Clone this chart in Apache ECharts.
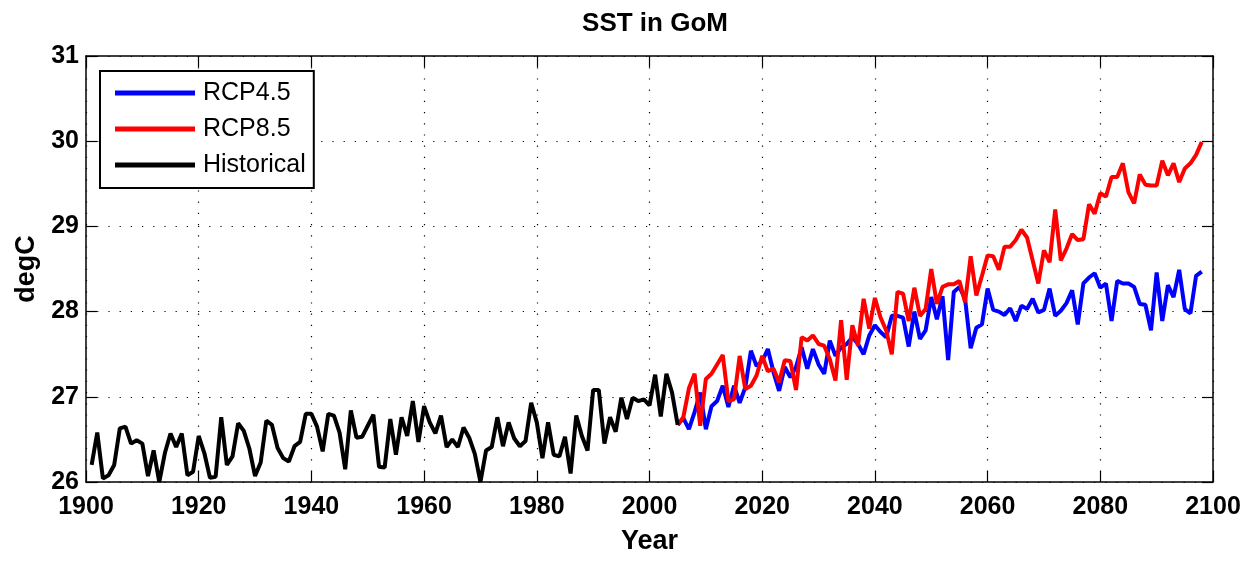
<!DOCTYPE html>
<html>
<head>
<meta charset="utf-8">
<script src="https://cdn.jsdelivr.net/npm/echarts@6/dist/echarts.min.js"></script>
<style>html,body{margin:0;padding:0;background:#fff}#c{width:1257px;height:565px}</style>
</head>
<body>
<div id="c"></div>
<script>
const histStart = 1901;
const histValues = [26.20,26.58,26.04,26.08,26.20,26.63,26.65,26.45,26.49,26.45,
26.07,26.37,26.00,26.34,26.57,26.41,26.57,26.08,26.12,26.54,
26.34,26.05,26.06,26.76,26.20,26.30,26.69,26.60,26.39,26.07,
26.23,26.72,26.67,26.40,26.28,26.24,26.42,26.47,26.80,26.80,
26.65,26.36,26.80,26.78,26.58,26.15,26.84,26.52,26.53,26.66,
26.79,26.18,26.17,26.74,26.32,26.76,26.54,26.95,26.47,26.89,
26.70,26.57,26.78,26.41,26.50,26.41,26.64,26.52,26.33,26.00,
26.37,26.41,26.76,26.42,26.70,26.51,26.42,26.48,26.93,26.70,
26.28,26.70,26.32,26.30,26.53,26.10,26.78,26.54,26.37,27.08,
27.08,26.45,26.76,26.59,26.99,26.74,26.99,26.95,26.97,26.90,
27.26,26.77,27.27,27.05,26.67];
const rcpStart = 2005;
const rcp45Values = [26.67,26.75,26.62,26.82,27.05,26.62,26.89,26.95,27.13,26.88,
27.13,26.93,27.11,27.54,27.36,27.42,27.56,27.29,27.07,27.35,
27.23,27.35,27.58,27.33,27.56,27.38,27.27,27.66,27.48,27.58,
27.62,27.70,27.62,27.50,27.72,27.84,27.76,27.70,27.95,27.95,
27.93,27.59,28.00,27.68,27.78,28.17,27.91,28.18,27.43,28.23,
28.29,28.15,27.57,27.81,27.85,28.27,28.02,28.00,27.96,28.04,
27.89,28.07,28.03,28.15,27.99,28.02,28.27,27.95,28.01,28.10,
28.25,27.85,28.33,28.40,28.45,28.28,28.33,27.89,28.36,28.33,
28.33,28.29,28.09,28.08,27.78,28.46,27.89,28.31,28.17,28.49,
28.03,27.98,28.42,28.47];
const rcp85Values = [26.67,26.76,27.10,27.27,26.66,27.21,27.27,27.38,27.49,26.95,
26.97,27.48,27.09,27.13,27.25,27.48,27.30,27.33,27.17,27.43,
27.42,27.08,27.70,27.66,27.72,27.62,27.60,27.44,27.19,27.90,
27.20,27.84,27.60,28.15,27.80,28.16,27.93,27.78,27.50,28.23,
28.21,27.89,28.28,27.95,28.03,28.50,28.09,28.29,28.32,28.32,
28.36,28.11,28.65,28.19,28.42,28.66,28.65,28.49,28.76,28.76,
28.84,28.96,28.87,28.60,28.33,28.72,28.58,29.20,28.60,28.74,
28.91,28.84,28.85,29.26,29.15,29.39,29.35,29.58,29.58,29.74,
29.40,29.27,29.61,29.49,29.48,29.48,29.77,29.60,29.74,29.52,
29.68,29.74,29.84,29.99];
const seriesNames = ['RCP4.5','RCP8.5','Historical'];
const seriesColors = ['#0000ff','#ff0000','#000000'];
const xTicks = {min:1900, max:2100, interval:20};
const yTicks = {min:26, max:31, interval:1};

const pairs = (start, vals) => vals.map((v, i) => [start + i, v]);
const FONT = 'Liberation Sans, Arial, Helvetica, sans-serif';
const dotted = {show:true, lineStyle:{color:'#000', width:1.2, type:[1.2,10]}};
const axLine = {show:true, onZero:false, lineStyle:{color:'#000', width:1.5}};
const tick = {show:true, inside:true, length:11, lineStyle:{color:'#000', width:1.2}};
const plain = v => String(v);

const chart = echarts.init(document.getElementById('c'), null, {renderer:'canvas'});
chart.setOption({
  animation:false,
  backgroundColor:'#fff',
  title:{text:'SST in GoM', left:650, textAlign:'center', top:6,
    textStyle:{fontFamily:FONT, fontSize:26, fontWeight:'bold', color:'#000'}},
  grid:{left:86, right:44, top:56, bottom:83, containLabel:false},
  legend:{
    orient:'vertical', left:100, top:71, icon:'rect', itemWidth:80, itemHeight:5, itemGap:6,
    padding:[7,8,8,15], borderColor:'#000', borderWidth:2, backgroundColor:'#fff',
    selectedMode:false, data:seriesNames,
    textStyle:{fontFamily:FONT, fontSize:25, color:'#000', lineHeight:30, padding:[0,0,0,3]}
  },
  xAxis:[
    {type:'value', position:'bottom', min:xTicks.min, max:xTicks.max, interval:xTicks.interval,
     name:'Year', nameLocation:'middle', nameGap:46,
     nameTextStyle:{fontFamily:FONT, fontSize:27, fontWeight:'bold', color:'#000'},
     axisLine:axLine, axisTick:tick, splitLine:dotted,
     axisLabel:{fontFamily:FONT, fontSize:25, fontWeight:'bold', color:'#000', margin:13, formatter:plain}},
    {type:'value', position:'top', min:xTicks.min, max:xTicks.max, interval:xTicks.interval,
     axisLine:axLine, axisTick:tick, splitLine:{show:false}, axisLabel:{show:false}}
  ],
  yAxis:[
    {type:'value', position:'left', min:yTicks.min, max:yTicks.max, interval:yTicks.interval,
     name:'degC', nameLocation:'middle', nameGap:45,
     nameTextStyle:{fontFamily:FONT, fontSize:27, fontWeight:'bold', color:'#000'},
     axisLine:axLine, axisTick:tick, splitLine:dotted,
     axisLabel:{fontFamily:FONT, fontSize:25, fontWeight:'bold', color:'#000', margin:7, formatter:plain}},
    {type:'value', position:'right', min:yTicks.min, max:yTicks.max, interval:yTicks.interval,
     axisLine:axLine, axisTick:tick, splitLine:{show:false}, axisLabel:{show:false}}
  ],
  series:[
    {name:seriesNames[0], type:'line', data:pairs(rcpStart, rcp45Values), showSymbol:false,
     lineStyle:{color:seriesColors[0], width:4}, itemStyle:{color:seriesColors[0]}, z:2},
    {name:seriesNames[1], type:'line', data:pairs(rcpStart, rcp85Values), showSymbol:false,
     lineStyle:{color:seriesColors[1], width:4}, itemStyle:{color:seriesColors[1]}, z:3},
    {name:seriesNames[2], type:'line', data:pairs(histStart, histValues), showSymbol:false,
     lineStyle:{color:seriesColors[2], width:4}, itemStyle:{color:seriesColors[2]}, z:4}
  ]
});
</script>
</body>
</html>
